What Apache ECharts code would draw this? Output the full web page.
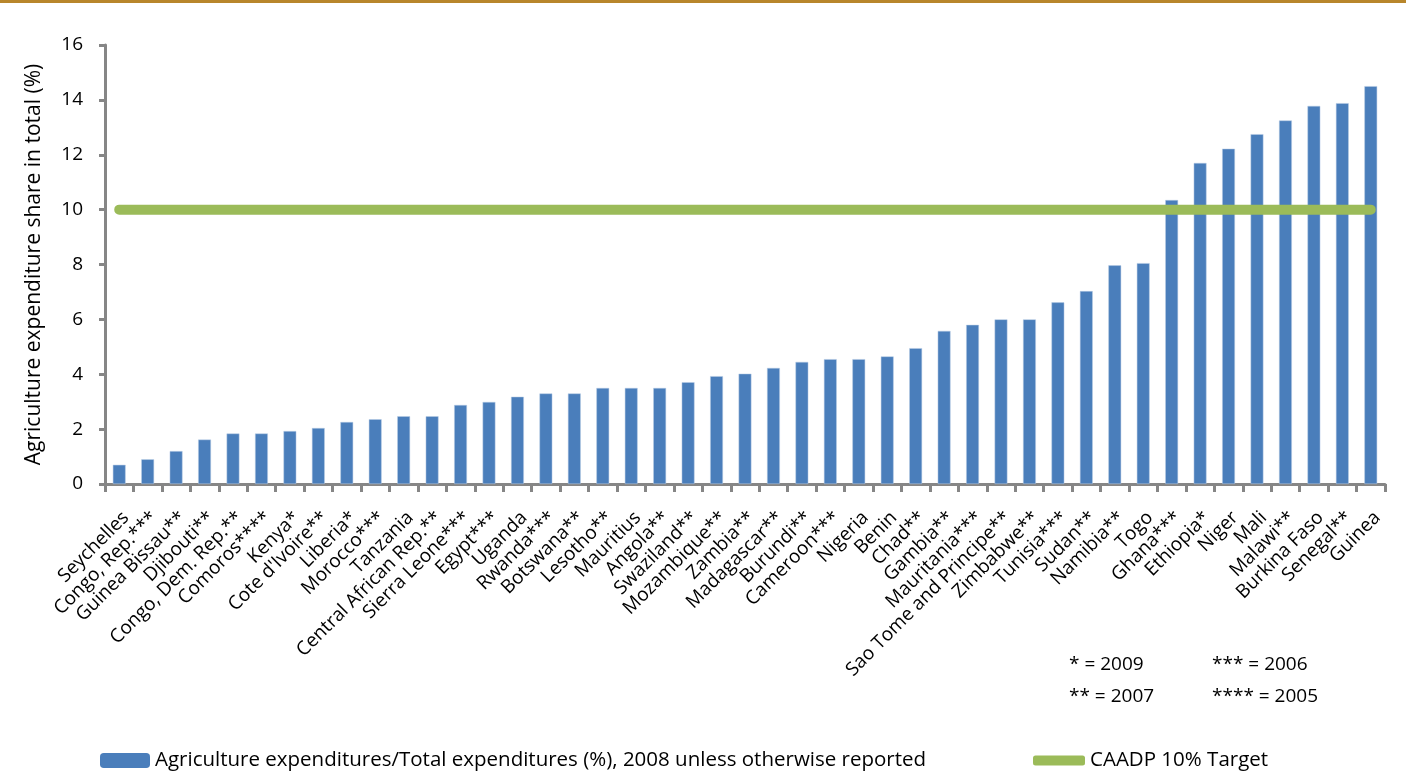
<!DOCTYPE html>
<html><head><meta charset="utf-8">
<script src="https://cdn.jsdelivr.net/npm/echarts@6/dist/echarts.min.js"></script>
<style>html,body{margin:0;padding:0;background:#fff}#c{width:1406px;height:775px}</style>
</head><body><div id="c"></div>
<script>
const categories = ["Seychelles","Congo, Rep.***","Guinea Bissau**","Djibouti**","Congo, Dem. Rep.**","Comoros****","Kenya*","Cote d'Ivoire**","Liberia*","Morocco***","Tanzania","Central African Rep.**","Sierra Leone***","Egypt***","Uganda","Rwanda***","Botswana**","Lesotho**","Mauritius","Angola**","Swaziland**","Mozambique**","Zambia**","Madagascar**","Burundi**","Cameroon***","Nigeria","Benin","Chad**","Gambia**","Mauritania***","Sao Tome and Principe**","Zimbabwe**","Tunisia***","Sudan**","Namibia**","Togo","Ghana***","Ethiopia*","Niger","Mali","Malawi**","Burkina Faso","Senegal**","Guinea"];
const agShare = [0.7,0.9,1.2,1.62,1.84,1.84,1.93,2.04,2.26,2.36,2.47,2.47,2.88,2.99,3.18,3.3,3.3,3.5,3.5,3.5,3.71,3.93,4.02,4.23,4.45,4.55,4.55,4.65,4.95,5.58,5.8,6.0,6.0,6.62,7.03,7.97,8.05,10.35,11.7,12.22,12.75,13.25,13.78,13.88,14.5];
const caadpTarget = [10,10,10,10,10,10,10,10,10,10,10,10,10,10,10,10,10,10,10,10,10,10,10,10,10,10,10,10,10,10,10,10,10,10,10,10,10,10,10,10,10,10,10,10,10];
const yTicks = [0,2,4,6,8,10,12,14,16];
const seriesNames = ["Agriculture expenditures/Total expenditures (%), 2008 unless otherwise reported","CAADP 10% Target"];
const notes = [["* = 2009","*** = 2006"],["** = 2007","**** = 2005"]];

const FONT = "Open Sans";
const chart = echarts.init(document.getElementById('c'), null, {renderer:'canvas'});
chart.setOption({
  animation:false,
  textStyle:{fontFamily:FONT,color:'#000'},
  grid:{left:105,right:21,top:45,bottom:291,containLabel:false},
  legend:[
    {data:[seriesNames[0]],left:95,top:745,itemWidth:50,itemHeight:15,itemGap:10,
     itemStyle:{borderWidth:0},
     textStyle:{fontFamily:FONT,fontSize:20.5,color:'#000'}},
    {data:[{name:seriesNames[1],icon:'roundRect'}],left:1028,top:745,itemWidth:52,itemHeight:10,
     textStyle:{fontFamily:FONT,fontSize:20.5,color:'#000'}}
  ],
  xAxis:{type:'category',data:categories,boundaryGap:true,
    axisLine:{lineStyle:{color:'#868686',width:3}},
    axisTick:{show:true,alignWithLabel:false,length:8,lineStyle:{color:'#868686',width:3}},
    axisLabel:{rotate:45,interval:0,fontSize:19,color:'#000',fontFamily:FONT,margin:24,verticalAlign:'top'}},
  yAxis:{type:'value',min:0,max:16,interval:2,
    name:'Agriculture expenditure share in total (%)',nameLocation:'middle',nameGap:60,
    nameTextStyle:{fontSize:21,color:'#000',fontFamily:FONT},
    axisLine:{show:true,lineStyle:{color:'#868686',width:3}},
    axisTick:{show:true,length:6,lineStyle:{color:'#868686',width:3}},
    splitLine:{show:false},
    axisLabel:{fontSize:19,color:'#000',fontFamily:FONT,margin:22,
      formatter:v=>yTicks.includes(v)?String(v):''}},
  series:[
    {name:seriesNames[0],type:'bar',data:agShare,barWidth:'45%',
     itemStyle:{color:'#4a7ebb',borderColor:'#b9cde5',borderWidth:0.5}},
    {name:seriesNames[1],type:'line',data:caadpTarget,symbol:'none',
     lineStyle:{color:'#9bbb59',width:10,cap:'round'},itemStyle:{color:'#9bbb59'}}
  ],
  graphic:[
    {type:'rect',left:0,top:0,shape:{width:1406,height:3},style:{fill:'#b8862b'}},
    {type:'text',left:1069,top:655,style:{text:notes[0][0],font:'19px '+FONT,fill:'#000'}},
    {type:'text',left:1212,top:655,style:{text:notes[0][1],font:'19px '+FONT,fill:'#000'}},
    {type:'text',left:1069,top:687,style:{text:notes[1][0],font:'19px '+FONT,fill:'#000'}},
    {type:'text',left:1212,top:687,style:{text:notes[1][1],font:'19px '+FONT,fill:'#000'}}
  ]
});
</script></body></html>
